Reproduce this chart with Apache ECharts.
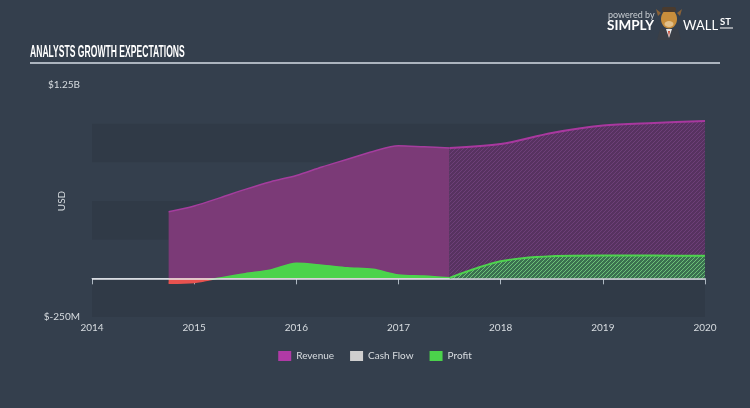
<!DOCTYPE html>
<html><head><meta charset="utf-8">
<script src="https://cdn.jsdelivr.net/npm/echarts@6/dist/echarts.min.js"></script>
<style>html,body{margin:0;padding:0;background:#343f4d;} #c{width:750px;height:408px;}</style>
</head><body><div id="c"></div>
<script>
// ---- data (values in billions USD, x in decimal years) ----
const xYears = [2014, 2015, 2016, 2017, 2018, 2019, 2020];
const actualX = [2014.75, 2015.0, 2015.25, 2015.5, 2015.75, 2016.0, 2016.25, 2016.5, 2016.75, 2017.0, 2017.25, 2017.5];
const revenueActual = [0.430, 0.468, 0.520, 0.575, 0.625, 0.665, 0.720, 0.770, 0.820, 0.857, 0.850, 0.843];
const profitActual = [-0.032, -0.027, 0.002, 0.030, 0.054, 0.097, 0.085, 0.068, 0.058, 0.022, 0.015, 0.003];
const estimateX = [2017.5, 2018.0, 2018.5, 2019.0, 2019.5, 2020.0];
const revenueEstimate = [0.843, 0.868, 0.940, 0.988, 1.005, 1.018];
const profitEstimate = [0.003, 0.110, 0.143, 0.147, 0.147, 0.146];
const cashFlow = [];
const yMin = -0.25, yMax = 1.25, yStep = 0.25;
const yEdgeLabels = {'-0.25': '$-250M', '1.25': '$1.25B'};
const yAxisName = 'USD';
const legendNames = ['Revenue', 'Cash Flow', 'Profit'];
const regionLabels = ['Actual', 'Estimated'];

function zip(xs, ys) { return xs.map((x, i) => [x, ys[i]]); }
function hatch(bg, fg, size, lw) {
  const c = document.createElement('canvas'); c.width = c.height = size;
  const g = c.getContext('2d'); g.fillStyle = bg; g.fillRect(0, 0, size, size);
  g.strokeStyle = fg; g.lineWidth = lw; g.beginPath();
  g.moveTo(0, size); g.lineTo(size, 0);
  g.moveTo(-size / 2, size / 2); g.lineTo(size / 2, -size / 2);
  g.moveTo(size / 2, size * 1.5); g.lineTo(size * 1.5, size / 2);
  g.stroke();
  return {image: c, repeat: 'repeat'};
}
// green above zero, red below zero, split at the zero position inside the profit shape's extent
function signGradient(vals, pos, neg) {
  const hi = Math.max(0, ...vals), lo = Math.min(0, ...vals);
  const r = hi / (hi - lo);
  return {type: 'linear', x: 0, y: 0, x2: 0, y2: 1, colorStops: [
    {offset: 0, color: pos}, {offset: r, color: pos}, {offset: r, color: neg}, {offset: 1, color: neg}]};
}

const FONT = 'Lato, "Open Sans", sans-serif';
const GREEN = '#4bd34b', RED = '#e8524f';
const chart = echarts.init(document.getElementById('c'));
const labelStyle = {show: true, position: 'inside', color: '#ececec', fontSize: 10, fontFamily: FONT,
  backgroundColor: 'rgba(38,20,40,0.92)', padding: [3, 4, 2, 4]};

chart.setOption({
  backgroundColor: '#343f4d',
  textStyle: {fontFamily: FONT},
  animation: false,
  grid: {left: 92, right: 45, top: 85, bottom: 91},
  legend: {
    top: 346, left: 'center', icon: 'rect', itemWidth: 13, itemHeight: 10, itemGap: 16,
    textStyle: {color: '#d9dde1', fontSize: 10},
    data: [
      {name: legendNames[0], itemStyle: {color: '#b03aa6', borderWidth: 0}},
      {name: legendNames[1], itemStyle: {color: '#cfcfcf', borderWidth: 0}},
      {name: legendNames[2], itemStyle: {color: GREEN, borderWidth: 0}}
    ]
  },
  xAxis: {
    type: 'value', min: xYears[0], max: xYears[xYears.length - 1], interval: 1,
    axisLine: {lineStyle: {color: '#aeb8c2', width: 1}},
    axisTick: {show: true, length: 6, lineStyle: {color: '#aeb8c2'}},
    axisLabel: {color: '#d7dce0', fontSize: 10, margin: 6, formatter: v => String(v)},
    splitLine: {show: false}
  },
  yAxis: {
    type: 'value', min: yMin, max: yMax, interval: yStep,
    axisLine: {show: false}, axisTick: {show: false},
    axisLabel: {color: '#d7dce0', fontSize: 10, margin: 12,
      formatter: v => yEdgeLabels[String(v)] || ''},
    splitLine: {show: false},
    splitArea: {show: true, areaStyle: {color: ['rgba(0,0,0,0.07)', 'rgba(0,0,0,0)']}}
  },
  series: [
    {name: 'Revenue', type: 'line', data: zip(actualX, revenueActual), smooth: 0.3,
     symbol: 'none', itemStyle: {color: '#b03aa6'},
     lineStyle: {color: '#a53d9e', width: 1.5}, areaStyle: {color: '#7b3a77', opacity: 1},
     markArea: {silent: true, itemStyle: {color: 'rgba(0,0,0,0)'}, label: labelStyle,
       data: [
         [{name: regionLabels[0], xAxis: actualX[0], yAxis: 0}, {xAxis: actualX[actualX.length - 1], yAxis: 0.86}],
         [{name: regionLabels[1], xAxis: estimateX[0], yAxis: 0}, {xAxis: estimateX[estimateX.length - 1], yAxis: 0.86}]
       ]}},
    {name: 'Revenue (estimate)', type: 'line', data: zip(estimateX, revenueEstimate), smooth: 0.3,
     symbol: 'none', itemStyle: {color: '#b03aa6'},
     lineStyle: {color: '#a9389f', width: 2}, areaStyle: {color: hatch('#573260', '#6d3f78', 4, 1), opacity: 1}},
    {name: 'Cash Flow', type: 'line', data: cashFlow, symbol: 'none', itemStyle: {color: '#cfcfcf'}},
    {name: 'Profit', type: 'line', data: zip(actualX, profitActual), smooth: 0.3,
     symbol: 'none', itemStyle: {color: GREEN},
     lineStyle: {width: 1.5, color: signGradient(profitActual, GREEN, RED)},
     areaStyle: {opacity: 1, color: signGradient(profitActual, GREEN, RED)}},
    {name: 'Profit (estimate)', type: 'line', data: zip(estimateX, profitEstimate), smooth: 0.3,
     symbol: 'none', itemStyle: {color: GREEN}, z: 5,
     lineStyle: {color: '#4ed34e', width: 2}, areaStyle: {color: hatch('#3b7150', '#6cc078', 4, 1), opacity: 1},
     markLine: {silent: true, symbol: 'none', label: {show: false},
       lineStyle: {color: '#e6e9ec', width: 1.5, type: 'solid'}, data: [{yAxis: 0}]}}
  ],
  graphic: [
    {type: 'text', x: 62, y: 201, rotation: Math.PI / 2, style: {text: yAxisName, fill: '#d7dce0',
      font: '10px ' + FONT, align: 'center', textAlign: 'center', textVerticalAlign: 'middle', verticalAlign: 'middle'}},
    {type: 'text', x: 30, y: 52, scaleX: 0.52, style: {text: 'ANALYSTS GROWTH EXPECTATIONS', fill: '#ffffff',
      font: 'bold 16.5px "Liberation Sans Narrow", "Liberation Sans", sans-serif', textVerticalAlign: 'middle', verticalAlign: 'middle'}},
    {type: 'line', shape: {x1: 30, y1: 63, x2: 720, y2: 63}, style: {stroke: '#d5dde5', lineWidth: 1.5}},
    {type: 'text', x: 608, y: 15, style: {text: 'powered by', fill: '#c9ced3', font: '9px ' + FONT, textVerticalAlign: 'middle', verticalAlign: 'middle'}},
    {type: 'text', x: 607, y: 26, style: {text: 'SIMPLY', fill: '#ffffff', font: 'bold 13.5px ' + FONT, textVerticalAlign: 'middle', verticalAlign: 'middle'}},
    {type: 'polygon', shape: {points: [[657, 40], [660, 29], [678, 29], [681, 40]]}, style: {fill: '#3a3f47'}},
    {type: 'polygon', shape: {points: [[666, 29], [672, 29], [669, 38]]}, style: {fill: '#e8e8e8'}},
    {type: 'polygon', shape: {points: [[668, 31], [670, 31], [669, 37]]}, style: {fill: '#c8452f'}},
    {type: 'polygon', shape: {points: [[661, 13], [656, 9], [658, 16]]}, style: {fill: '#8b6236'}},
    {type: 'polygon', shape: {points: [[677, 13], [682, 9], [680, 16]]}, style: {fill: '#8b6236'}},
    {type: 'ellipse', shape: {cx: 669, cy: 19, rx: 8, ry: 9.5}, style: {fill: '#c88e3c'}},
    {type: 'rect', shape: {x: 662, y: 7, width: 14, height: 5, r: 2}, style: {fill: '#4a3b2e'}},
    {type: 'ellipse', shape: {cx: 669, cy: 24, rx: 4.5, ry: 3}, style: {fill: '#e2c08a'}},
    {type: 'text', x: 683, y: 26, style: {text: 'WALL', fill: '#ffffff', font: '13px ' + FONT, textVerticalAlign: 'middle', verticalAlign: 'middle'}},
    {type: 'text', x: 720, y: 22, style: {text: 'ST', fill: '#ffffff', font: 'bold 9.5px ' + FONT, textVerticalAlign: 'middle', verticalAlign: 'middle'}},
    {type: 'line', shape: {x1: 720, y1: 28, x2: 733, y2: 28}, style: {stroke: '#ffffff', lineWidth: 1}}
  ]
});
</script></body></html>
